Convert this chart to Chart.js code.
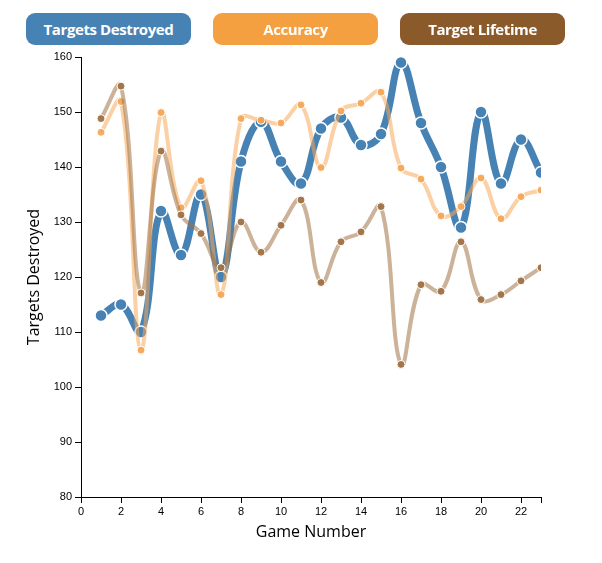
<!DOCTYPE html>
<html>
<head>
<meta charset="utf-8">
<script src="https://cdn.jsdelivr.net/npm/chart.js@4.4.1/dist/chart.umd.min.js"></script>
<style>
  html, body { margin: 0; padding: 0; background: #fff; }
  #wrap { position: relative; width: 602px; height: 563px; }
  #chart { position: absolute; left: 0; top: 0; }
  .btn { position: absolute; top: 13px; width: 165px; height: 32px; border-radius: 9px;
         color: #fff; font-family: "Open Sans", "Noto Sans", sans-serif; font-weight: 700;
         font-size: 15px; line-height: 32px; text-align: center; letter-spacing: -0.4px; }
</style>
</head>
<body>
<div id="wrap">
  <canvas id="chart" width="602" height="563"></canvas>
  <div class="btn" id="b0" style="left:26px;background:#4682b4;"></div>
  <div class="btn" id="b1" style="left:213px;background:#f4a041;"></div>
  <div class="btn" id="b2" style="left:400px;background:#8b5a2b;"></div>
</div>
<script>
const games = [1,2,3,4,5,6,7,8,9,10,11,12,13,14,15,16,17,18,19,20,21,22,23];
const seriesNames = ["Targets Destroyed", "Accuracy", "Target Lifetime"];
const targetsDestroyed = [113,115,110,132,124,135,120,141,148.2,141,137,147,149,144,146,159,148,140,129,150,137,145,139];
const accuracy = [146.3,151.9,106.7,149.9,132.6,137.5,116.8,148.8,148.5,148.0,151.3,139.9,150.2,151.6,153.6,139.8,137.8,131.1,132.8,138.0,130.6,134.6,135.8];
const targetLifetime = [148.8,154.7,117.1,142.9,131.3,127.9,121.7,130.0,124.5,129.4,134.0,119.0,126.4,128.2,132.8,104.1,118.6,117.4,126.4,115.9,116.8,119.3,121.7];
const yTicks = [80,90,100,110,120,130,140,150,160];
const xTickLabels = [0,2,4,6,8,10,12,14,16,18,20,22];
const xAxisTitle = "Game Number";
const yAxisTitle = "Targets Destroyed";

seriesNames.forEach((n,i)=>{ document.getElementById('b'+i).textContent = n; });

const pts = arr => games.map((g,i)=>({x:g, y:arr[i]}));

new Chart(document.getElementById('chart'), {
  type: 'line',
  data: {
    datasets: [
      { label: seriesNames[0], data: pts(targetsDestroyed), order: 3,
        borderColor: '#4682b4', borderWidth: 7, tension: 0.4,
        pointRadius: 6, pointBackgroundColor: '#4682b4', pointBorderColor: '#fff', pointBorderWidth: 1.5 },
      { label: seriesNames[1], data: pts(accuracy), order: 2,
        borderColor: 'rgba(247,170,90,0.55)', borderWidth: 4, tension: 0.4,
        pointRadius: 4, pointBackgroundColor: 'rgba(245,165,85,0.9)', pointBorderColor: '#fff', pointBorderWidth: 1 },
      { label: seriesNames[2], data: pts(targetLifetime), order: 1,
        borderColor: 'rgba(160,115,70,0.55)', borderWidth: 4, tension: 0.4,
        pointRadius: 4, pointBackgroundColor: 'rgba(160,115,70,0.95)', pointBorderColor: '#fff', pointBorderWidth: 1 }
    ]
  },
  options: {
    responsive: false,
    animation: false,
    events: [],
    layout: { padding: { left: 0, top: 57, right: 61, bottom: 0 } },
    plugins: { legend: { display: false }, tooltip: { enabled: false } },
    scales: {
      x: {
        type: 'linear', min: 0, max: 23,
        afterFit: s => { s.height = 66; },
        afterBuildTicks: s => { s.ticks = xTickLabels.map(v=>({value:v})).concat([{value:23}]); },
        grid: { drawOnChartArea: false, drawTicks: true, tickLength: 6, color: '#000', lineWidth: 1 },
        border: { color: '#000', width: 1 },
        ticks: { color: '#000', font: { family: 'Liberation Sans, Arial, sans-serif', size: 11 }, padding: 2, maxRotation: 0,
                 callback: v => xTickLabels.includes(v) ? String(v) : '' },
        title: { display: true, text: xAxisTitle, color: '#000', font: { family: 'Open Sans, Noto Sans, sans-serif', size: 16 }, padding: { top: 0, bottom: 21 } }
      },
      y: {
        type: 'linear', min: 80, max: 160,
        afterFit: s => { s.width = 81; },
        afterBuildTicks: s => { s.ticks = yTicks.map(v=>({value:v})); },
        grid: { drawOnChartArea: false, drawTicks: true, tickLength: 6, color: '#000', lineWidth: 1 },
        border: { color: '#000', width: 1 },
        ticks: { color: '#000', font: { family: 'Liberation Sans, Arial, sans-serif', size: 11 }, padding: 3 },
        title: { display: true, text: yAxisTitle, color: '#000', font: { family: 'Open Sans, Noto Sans, sans-serif', size: 16 }, padding: { top: 25, bottom: 0 } }
      }
    }
  }
});
</script>
</body>
</html>
